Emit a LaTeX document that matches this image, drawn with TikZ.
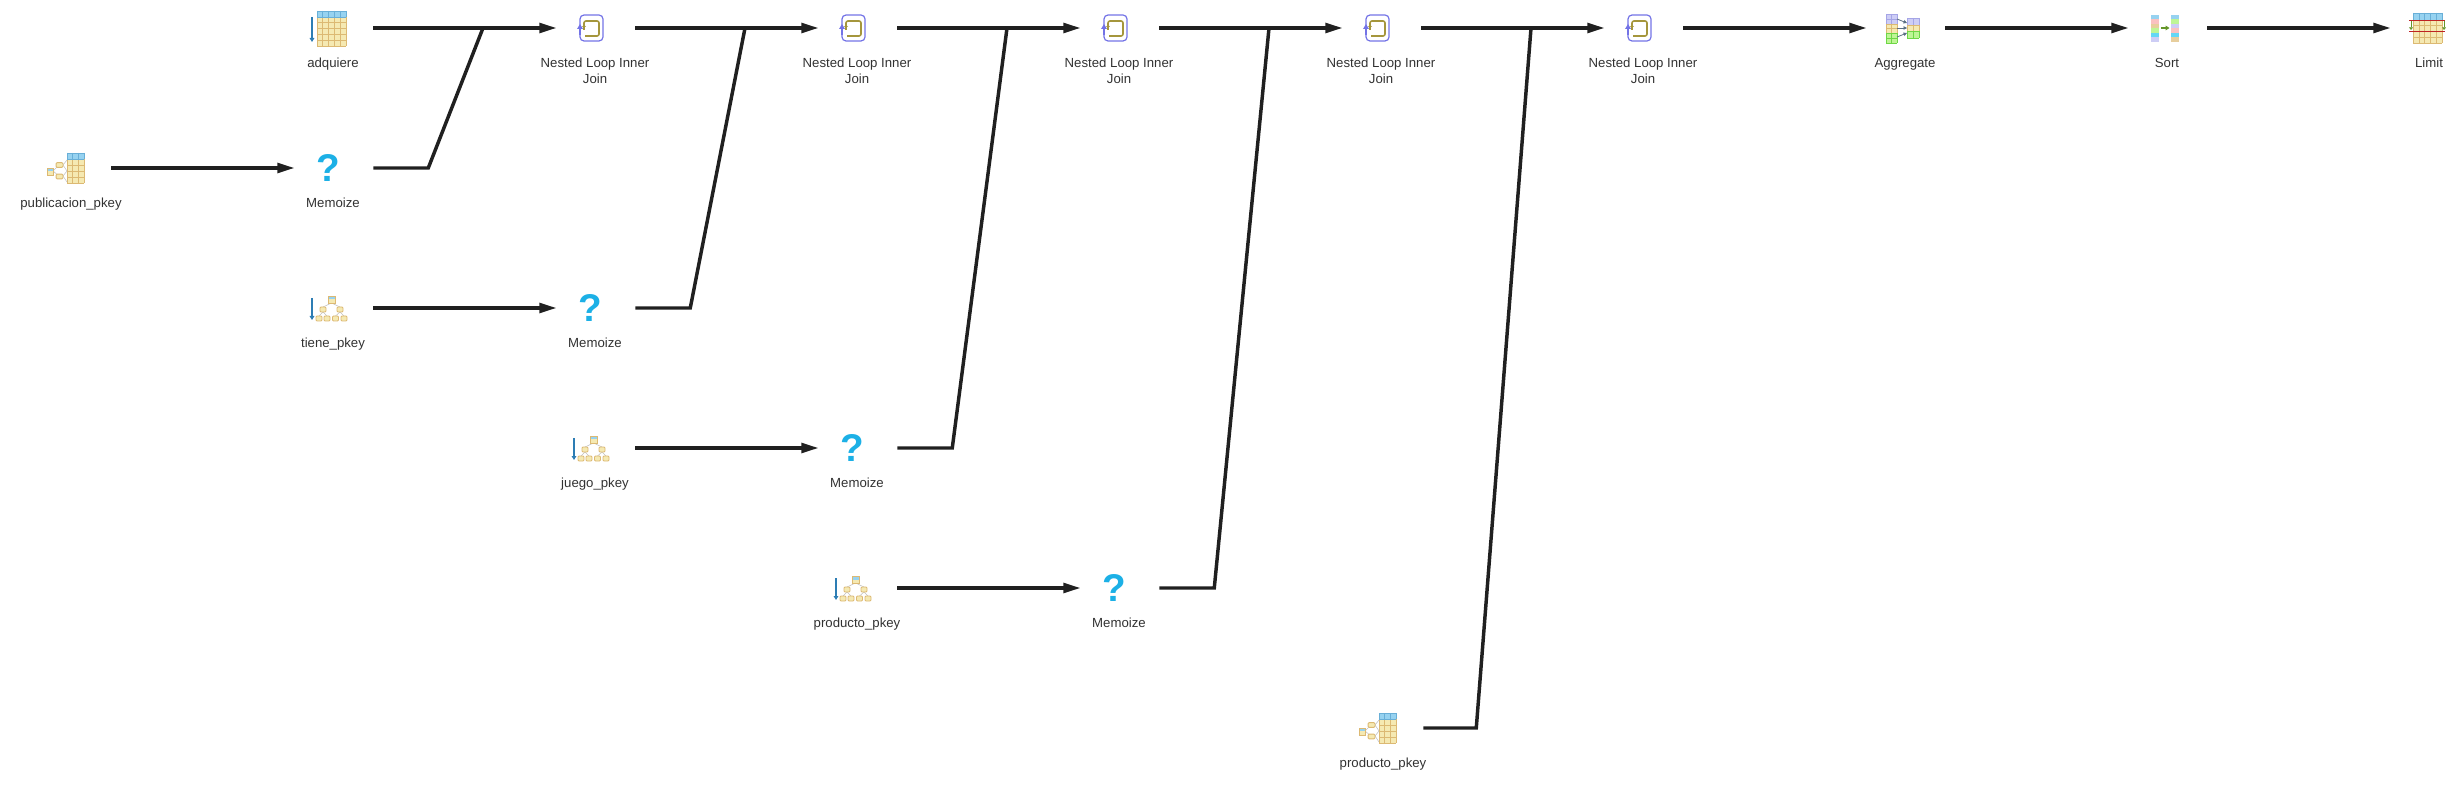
\documentclass[tikz,border=0pt]{standalone}
\usepackage{fontspec}
\setmainfont{Liberation Sans}
\usetikzlibrary{arrows.meta}
\definecolor{flowblack}{RGB}{32,32,32}
\definecolor{labelgray}{RGB}{50,50,50}
\definecolor{headblue}{RGB}{150,210,240}
\definecolor{headline}{RGB}{105,175,215}
\definecolor{bodytan}{RGB}{245,233,178}
\definecolor{bodyline}{RGB}{220,185,115}
\definecolor{scanblue}{RGB}{45,125,180}
\definecolor{loopviolet}{RGB}{115,115,230}
\definecolor{loopolive}{RGB}{165,150,60}
\definecolor{memoblue}{RGB}{28,176,230}
\definecolor{aggviolet}{RGB}{205,205,245}
\definecolor{aggline}{RGB}{165,165,230}
\definecolor{agggreen}{RGB}{190,245,150}
\definecolor{agggreenline}{RGB}{110,215,70}
\definecolor{linkslate}{RGB}{90,110,130}
\definecolor{sortgreen}{RGB}{100,150,40}
\definecolor{sortpink}{RGB}{245,130,130}
\definecolor{sortcyan}{RGB}{100,215,245}
\definecolor{limitred}{RGB}{190,35,35}
\tikzset{
  flow/.style = {draw=flowblack, line width=2.6pt},
  flowarrow/.style = {flow, shorten >=-1.5pt, -{Triangle[length=13pt,width=7.2pt]}},
  opbox/.style = {minimum width=60pt, minimum height=42pt, inner sep=0pt},
  oplabel/.style = {anchor=north, inner sep=0pt, align=center, text=labelgray,
    font=\fontsize{9.9pt}{12pt}\selectfont},
  memomark/.style = {inner sep=0pt, text=memoblue,
    font=\fontsize{29pt}{29pt}\selectfont\bfseries},
  keybox/.style = {fill=bodytan, draw=bodyline, line width=.7pt, rounded corners=.8pt},
  keylink/.style = {draw=black!25, line width=.4pt},
  cellline/.style = {line width=.5pt}
}
% node name, x, y, label
\newcommand{\opnode}[4]{%
  \node[opbox] (#1) at (#2,#3) {};
  \node[oplabel] (#1text) at (#2,#3+30) {#4};
}
% left, top, right, rows top, bottom, columns, rows, fill, line
\newcommand{\cellgrid}[9]{%
  \fill[#8] (#1,#2) rectangle (#3,#5);
  \foreach \k in {0,...,#6} {
    \draw[#9, cellline] ({#1+(#3-#1)*\k/#6},#2) -- ({#1+(#3-#1)*\k/#6},#5);
  }
  \foreach \k in {0,...,#7} {
    \draw[#9, cellline] (#1,{#4+(#5-#4)*\k/#7}) -- (#3,{#4+(#5-#4)*\k/#7});
  }
  \draw[#9, cellline] (#1,#2) -- (#3,#2);
}
\newcommand{\scandown}[3]{%
  \draw[scanblue, line width=1pt, -{Triangle[length=3pt,width=3.5pt]}] (#1,#2) -- (#1,#3);
}
\newcommand{\tableicon}[1]{%
  \begin{scope}[shift={(#1)}]
    \scandown{-21}{-11}{14}
    \cellgrid{-16}{-17}{13}{-11}{18}{5}{5}{bodytan}{bodyline}
    \cellgrid{-16}{-17}{13}{-17}{-11}{5}{1}{headblue}{headline}
  \end{scope}
}
\newcommand{\indextable}[1]{%
  \begin{scope}[shift={(#1)}]
    \draw[keylink] (-18,3) -- (-12,-3) (-18,3) -- (-12,8);
    \draw[keylink] (-8,-3) -- (-4,-8) (-8,-3) -- (-4,3) (-8,8) -- (-4,3) (-8,8) -- (-4,14);
    \cellgrid{-4}{-15}{13}{-9}{15}{3}{4}{bodytan}{bodyline}
    \cellgrid{-4}{-15}{13}{-15}{-9}{3}{1}{headblue}{headline}
    \node[keybox, minimum width=5.2pt, minimum height=3.6pt, inner sep=0pt] (#1keya) at (-11.5,-3) {};
    \node[keybox, minimum width=5.2pt, minimum height=3.6pt, inner sep=0pt] (#1keyb) at (-11.5,8.5) {};
    \fill[bodytan] (-24,0) rectangle (-18,7);
    \fill[headblue] (-24,0) rectangle (-18,3);
    \draw[bodyline, line width=.6pt] (-24,0) rectangle (-18,7);
  \end{scope}
}
\newcommand{\indextree}[1]{%
  \begin{scope}[shift={(#1)}]
    \scandown{-21}{-10}{12}
    \draw[keylink] (-1.5,-5) -- (-10,-1) (-1.5,-5) -- (7,-1);
    \draw[keylink] (-10,4) -- (-14,8) (-10,4) -- (-6,8) (7,4) -- (2.5,8) (7,4) -- (11,8);
    \fill[bodytan] (-5,-12) rectangle (2,-5);
    \fill[headblue] (-5,-12) rectangle (2,-8.5);
    \draw[bodyline, line width=.6pt] (-5,-12) rectangle (2,-5);
    \foreach \kx in {-10,7} {
      \draw[keybox] (\kx-3,-1) rectangle (\kx+3,4);
    }
    \foreach \kx in {-14,-6,2.5,11} {
      \draw[keybox] (\kx-3,8) rectangle (\kx+3,13);
    }
  \end{scope}
}
\newcommand{\joinicon}[1]{%
  \begin{scope}[shift={(#1)}]
    \draw[loopviolet, line width=.9pt, rounded corners=3pt] (-15,-13) rectangle (8,13);
    \fill[white] (-17,-1) rectangle (-13,6);
    \fill[loopviolet] (-18,1) -- (-15,-4) -- (-12,1) -- cycle;
    \draw[loopviolet, line width=1pt] (-15,1) -- (-15,7);
    \draw[loopolive, line width=1.2pt, rounded corners=1.5pt]
      (-11,-2) -- (-11,-7) -- (4,-7) -- (4,8) -- (-10,8);
    \fill[loopolive] (-9,-1) -- (-11,-3.5) -- (-13,-1) -- cycle;
    \draw[loopolive, line width=1pt] (-11,-1) -- (-11,2);
  \end{scope}
}
\newcommand{\aggicon}[1]{%
  \begin{scope}[shift={(#1)}]
    \cellgrid{-19}{-14}{-8}{-14}{-4}{2}{2}{aggviolet}{aggline}
    \cellgrid{-19}{-4}{-8}{-4}{5}{2}{2}{bodytan}{bodyline}
    \cellgrid{-19}{5}{-8}{5}{15}{2}{2}{agggreen}{agggreenline}
    \cellgrid{2}{-10}{14}{-10}{-3}{2}{1}{aggviolet}{aggline}
    \cellgrid{2}{-3}{14}{-3}{3}{2}{1}{bodytan}{bodyline}
    \cellgrid{2}{3}{14}{3}{10}{2}{1}{agggreen}{agggreenline}
    \foreach \ya/\yb in {-9/-5, 0/0, 9/5} {
      \draw[linkslate, line width=.6pt, -{Triangle[length=2.6pt,width=2.6pt]}] (-8,\ya) -- (2,\yb);
    }
  \end{scope}
}
% x of the column, then the six cells from the top
\newcommand{\sortcolumn}[7]{%
  \foreach \cellfill/\cellrow in {#2/0,#3/1,#4/2,#5/3,#6/4,#7/5} {
    \fill[\cellfill] (#1,{-13+4.5*\cellrow}) rectangle (#1+8,{-13+4.5*(\cellrow+1)});
  }
}
\newcommand{\sorticon}[1]{%
  \begin{scope}[shift={(#1)}]
    \sortcolumn{-16}{headblue}{sortpink!50}{bodyline!70}{agggreen}{sortcyan}{aggviolet}
    \sortcolumn{4}{headblue}{agggreen}{aggviolet}{sortpink!50}{sortcyan}{bodyline!70}
    \draw[sortgreen, line width=1pt, -{Triangle[length=3pt,width=3.5pt]}] (-6,0) -- (2.5,0);
  \end{scope}
}
\newcommand{\limiticon}[1]{%
  \begin{scope}[shift={(#1)}]
    \cellgrid{-16}{-15}{13}{-8}{15}{5}{4}{bodytan}{bodyline}
    \cellgrid{-16}{-15}{13}{-15}{-8}{5}{1}{headblue}{headline}
    \draw[sortgreen, line width=.8pt, -{Triangle[length=2pt,width=3pt]}] (-18,-7) -- (-18,2);
    \draw[sortgreen, line width=.8pt, -{Triangle[length=2pt,width=3pt]}] (15,-7) -- (15,2);
    \draw[limitred, line width=.7pt] (-20,-8) -- (16,-8) (-20,3) -- (16,3);
  \end{scope}
}
\begin{document}
\begin{tikzpicture}[x=0.75pt,y=-0.75pt]
    \useasboundingbox (0,0) rectangle (2461,787);

    % scans and memoize steps
    \opnode{publicacion}{71}{168}{publicacion\_pkey}
    \opnode{memoa}{333}{168}{Memoize}
    \opnode{adquiere}{333}{28}{adquiere}
    \opnode{tiene}{333}{308}{tiene\_pkey}
    \opnode{memob}{595}{308}{Memoize}
    \opnode{juego}{595}{448}{juego\_pkey}
    \opnode{memoc}{857}{448}{Memoize}
    \opnode{productoa}{857}{588}{producto\_pkey}
    \opnode{memod}{1119}{588}{Memoize}
    \opnode{productob}{1383}{728}{producto\_pkey}

    % top row
    \opnode{joina}{595}{28}{Nested Loop Inner\\Join}
    \opnode{joinb}{857}{28}{Nested Loop Inner\\Join}
    \opnode{joinc}{1119}{28}{Nested Loop Inner\\Join}
    \opnode{joind}{1381}{28}{Nested Loop Inner\\Join}
    \opnode{joine}{1643}{28}{Nested Loop Inner\\Join}
    \opnode{aggregate}{1905}{28}{Aggregate}
    \opnode{sort}{2167}{28}{Sort}
    \opnode{limit}{2429}{28}{Limit}

    % icons
    \tableicon{adquiere}
    \indextable{publicacion}
    \indextable{productob}
    \indextree{tiene}
    \indextree{juego}
    \indextree{productoa}
    \foreach \joinname in {joina,joinb,joinc,joind,joine} {
      \joinicon{\joinname}
    }
    \aggicon{aggregate}
    \sorticon{sort}
    \limiticon{limit}
    \node[memomark] (marka) at (328,168) {?};
    \node[memomark] (markb) at (590,308) {?};
    \node[memomark] (markc) at (852,448) {?};
    \node[memomark] (markd) at (1114,588) {?};

    % merge points on the top row
    \coordinate (mergea) at (483,28);
    \coordinate (mergeb) at (745,28);
    \coordinate (mergec) at (1007,28);
    \coordinate (merged) at (1269,28);
    \coordinate (mergee) at (1531,28);

    \draw[flowarrow] (publicacion.east) -- (memoa.west);
    \draw[flowarrow] (tiene.east) -- (memob.west);
    \draw[flowarrow] (juego.east) -- (memoc.west);
    \draw[flowarrow] (productoa.east) -- (memod.west);

    \draw[flowarrow] (adquiere.east) -- (joina.west);
    \draw[flowarrow] (joina.east) -- (joinb.west);
    \draw[flowarrow] (joinb.east) -- (joinc.west);
    \draw[flowarrow] (joinc.east) -- (joind.west);
    \draw[flowarrow] (joind.east) -- (joine.west);
    \draw[flowarrow] (joine.east) -- (aggregate.west);
    \draw[flowarrow] (aggregate.east) -- (sort.west);
    \draw[flowarrow] (sort.east) -- (limit.west);

    \draw[flow] (memoa.east) -- ++(55,0) -- (mergea);
    \draw[flow] (memob.east) -- ++(55,0) -- (mergeb);
    \draw[flow] (memoc.east) -- ++(55,0) -- (mergec);
    \draw[flow] (memod.east) -- ++(55,0) -- (merged);
    \draw[flow] (productob.east) -- ++(53,0) -- (mergee);

\end{tikzpicture}
\end{document}
